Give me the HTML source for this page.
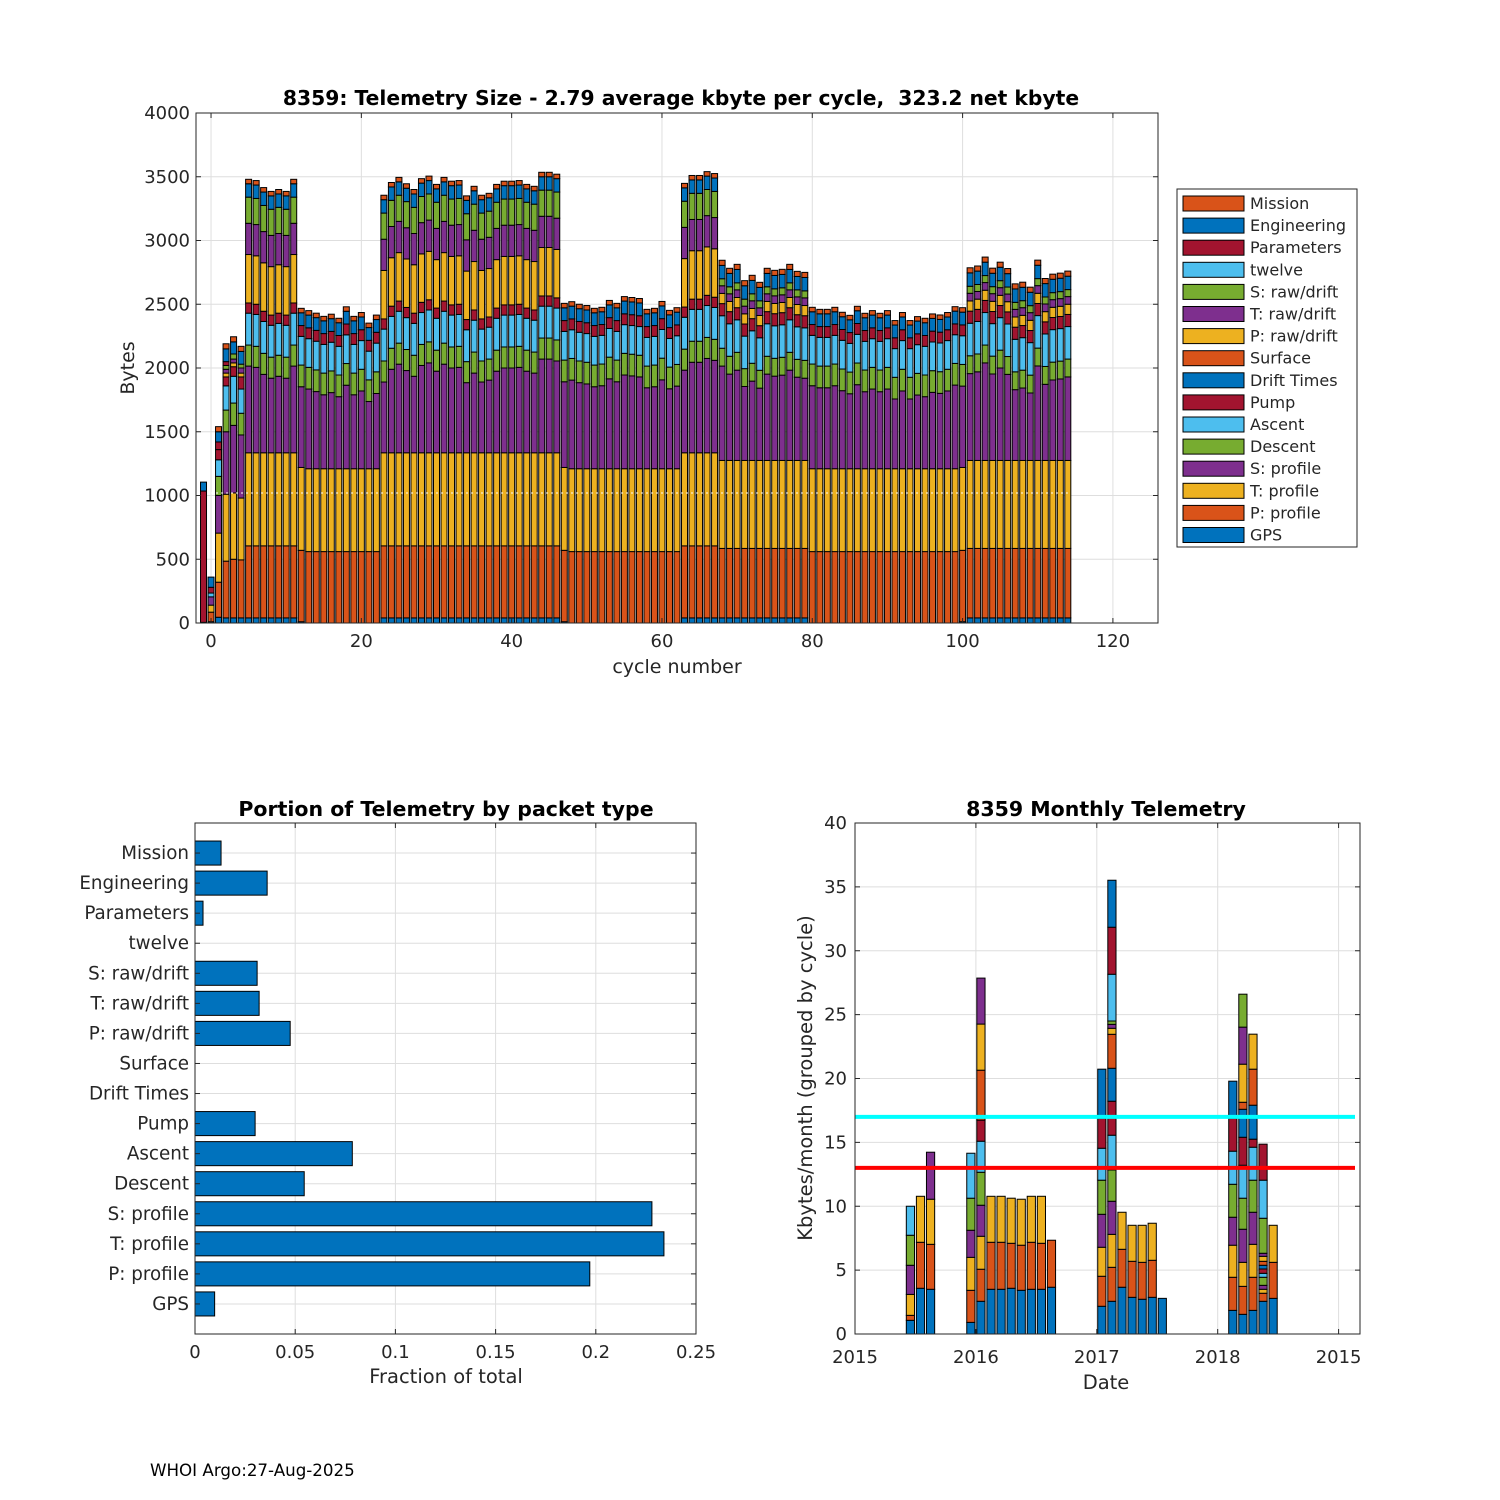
<!DOCTYPE html>
<html><head><meta charset="utf-8"><title>8359 Telemetry</title>
<style>
html,body{margin:0;padding:0;background:#fff;width:1500px;height:1500px;overflow:hidden}
svg{display:block;font-family:"DejaVu Sans","Liberation Sans",sans-serif;fill:#262626}
text{white-space:pre}
</style></head>
<body>
<svg id="fig" xmlns="http://www.w3.org/2000/svg" width="1500" height="1500" viewBox="0 0 1500 1500">
<rect x="0" y="0" width="1500" height="1500" fill="#fff"/>
<text x="150" y="1476" font-size="16.7" fill="#000">WHOI Argo:27-Aug-2025</text>
</svg>
<script>
// ---------- top chart data (cycles -1..114) ----------
const layerNames = ["GPS","P: profile","T: profile","S: profile","Descent","Ascent","Pump","Drift Times","Surface","P: raw/drift","T: raw/drift","S: raw/drift","twelve","Parameters","Engineering","Mission"];
const gps = [5,10,45,40,40,40,
40,40,40,40,40,40,40,
10,0,0,0,0,0,0,0,0,0,0,
40,40,40,40,40,40,40,40,40,40,40,40,40,40,40,40,40,40,40,40,40,40,40,40,
10,0,0,0,0,0,0,0,0,0,0,0,0,0,0,0,
40,40,40,40,40,
40,40,40,40,40,40,40,40,40,40,40,40,
0,0,0,0,0,0,0,0,0,0,0,0,0,0,0,0,0,0,0,0,10,
40,40,40,40,40,40,40,40,40,40,40,40,40,40];
const pProfile = [0,75,275,445,460,455,
565,565,565,565,565,565,565,
560,560,560,560,560,560,560,560,560,560,560,
565,565,565,565,565,565,565,565,565,565,565,565,565,565,565,565,565,565,565,565,565,565,565,565,
560,560,560,560,560,560,560,560,560,560,560,560,560,560,560,560,
565,565,565,565,565,
545,545,545,545,545,545,545,545,545,545,545,545,
560,560,560,560,560,560,560,560,560,560,560,560,560,560,560,560,560,560,560,560,560,
545,545,545,545,545,545,545,545,545,545,545,545,545,545];
const tProfile = [0,55,385,525,520,485,
730,730,730,730,730,730,730,
650,650,650,650,650,650,650,650,650,650,650,
730,730,730,730,730,730,730,730,730,730,730,730,730,730,730,730,730,730,730,730,730,730,730,730,
650,650,650,650,650,650,650,650,650,650,650,650,650,650,650,650,
730,730,730,730,730,
690,690,690,690,690,690,690,690,690,690,690,690,
650,650,650,650,650,650,650,650,650,650,650,650,650,650,650,650,650,650,650,650,650,
690,690,690,690,690,690,690,690,690,690,690,690,690,690];
const sProfile = [0,65,295,490,530,495,
680,670,615,585,600,585,680,
633,625,605,580,597,565,655,580,610,527,590,
555,655,695,645,600,685,705,640,695,665,670,550,625,555,570,640,665,665,670,640,625,735,735,720,
672,695,675,665,643,651,705,682,735,728,720,635,643,697,627,648,
648,710,710,740,725,
740,677,708,580,622,567,677,661,669,708,653,645,
651,635,635,651,612,588,659,604,625,604,625,547,610,547,578,565,599,591,610,656,638,
681,695,765,678,725,675,555,568,529,741,597,631,639,655];
const descent = [0,0,150,170,175,170,
165,165,165,165,165,165,165,
170,170,170,170,170,170,170,170,170,170,170,
165,165,165,165,165,165,165,165,165,165,165,165,165,165,165,165,165,165,165,165,165,165,165,165,
170,170,170,170,170,170,170,170,170,170,170,170,170,170,170,170,
165,165,165,165,165,
140,140,140,140,140,140,140,140,140,140,140,140,
170,170,170,170,170,170,170,170,170,170,170,170,170,170,170,170,170,170,170,170,170,
140,140,140,140,140,140,140,140,140,140,140,140,140,140];
const ascent = [0,30,130,190,210,190,
250,250,250,250,250,250,250,
225,225,225,225,225,225,225,225,225,225,225,
250,250,250,250,250,250,250,250,250,250,250,250,250,250,250,250,250,250,250,250,250,250,250,250,
225,225,225,225,225,225,225,225,225,225,225,225,225,225,225,225,
250,250,250,250,250,
255,255,255,255,255,255,255,255,255,255,255,255,
225,225,225,225,225,225,225,225,225,225,225,225,225,225,225,225,225,225,225,225,225,
255,255,255,255,255,255,255,255,255,255,255,255,255,255];
const pump = [0,45,80,70,75,95,
80,80,80,80,80,80,80,
85,85,85,85,85,85,85,85,85,85,85,
80,80,80,80,80,80,80,80,80,80,80,80,80,80,80,80,80,80,80,80,80,80,80,80,
85,85,85,85,85,85,85,85,85,85,85,85,85,85,85,85,
80,80,80,80,80,
95,95,95,95,95,95,95,95,95,95,95,95,
85,85,85,85,85,85,85,85,85,85,85,85,85,85,85,85,85,85,85,85,85,
95,95,95,95,95,95,95,95,95,95,95,95,95,95];
const pRaw = [0,0,0,30,30,30,
380,380,380,380,380,380,380,
0,0,0,0,0,0,0,0,0,0,0,
380,380,380,380,380,380,380,380,380,380,380,380,380,380,380,380,380,380,380,380,380,380,380,380,
0,0,0,0,0,0,0,0,0,0,0,0,0,0,0,0,
380,380,380,380,380,
80,80,80,80,80,80,80,80,80,80,80,80,
0,0,0,0,0,0,0,0,0,0,0,0,0,0,0,0,0,0,0,0,0,
80,80,80,80,80,80,80,80,80,80,80,80,80,80];
const tRaw = [0,0,0,30,30,40,
245,245,245,245,245,245,245,
0,0,0,0,0,0,0,0,0,0,0,
245,245,245,245,245,245,245,245,245,245,245,245,245,245,245,245,245,245,245,245,245,245,245,245,
0,0,0,0,0,0,0,0,0,0,0,0,0,0,0,0,
245,245,245,245,245,
60,60,60,60,60,60,60,60,60,60,60,60,
0,0,0,0,0,0,0,0,0,0,0,0,0,0,0,0,0,0,0,0,0,
60,60,60,60,60,60,60,60,60,60,60,60,60,60];
const sRaw = [0,0,0,30,40,30,
205,205,205,205,205,205,205,
0,0,0,0,0,0,0,0,0,0,0,
205,205,205,205,205,205,205,205,205,205,205,205,205,205,205,205,205,205,205,205,205,205,205,205,
0,0,0,0,0,0,0,0,0,0,0,0,0,0,0,0,
205,205,205,205,205,
55,55,55,55,55,55,55,55,55,55,55,55,
0,0,0,0,0,0,0,0,0,0,0,0,0,0,0,0,0,0,0,0,0,
55,55,55,55,55,55,55,55,55,55,55,55,55,55];
const parameters = [1030,0,60,30,0,0];
const engineering = [70,80,80,100,95,100,
105,105,105,105,105,105,105,
100,100,100,100,100,100,100,100,100,100,100,
105,105,105,105,105,105,105,105,105,105,105,105,105,105,105,105,105,105,105,105,105,105,105,105,
100,100,100,100,100,100,100,100,100,100,100,100,100,100,100,100,
105,105,105,105,105,
105,105,105,105,105,105,105,105,105,105,105,105,
100,100,100,100,100,100,100,100,100,100,100,100,100,100,100,100,100,100,100,100,100,
105,105,105,105,105,105,105,105,105,105,105,105,105,105];
const mission = [0,0,40,40,40,40,
35,35,35,35,35,35,35,
35,35,35,35,35,35,35,35,35,35,35,
35,35,35,35,35,35,35,35,35,35,35,35,35,35,35,35,35,35,35,35,35,35,35,35,
35,35,35,35,35,35,35,35,35,35,35,35,35,35,35,35,
35,35,35,35,35,
40,40,40,40,40,40,40,40,40,40,40,40,
35,35,35,35,35,35,35,35,35,35,35,35,35,35,35,35,35,35,35,35,35,
40,40,40,40,40,40,40,40,40,40,40,40,40,40];
const topXTicks = [0,20,40,60,80,100,120];
const topYTicks = [0,500,1000,1500,2000,2500,3000,3500,4000];

// ---------- bottom-left data ----------
const fracLabels = ["GPS","P: profile","T: profile","S: profile","Descent","Ascent","Pump","Drift Times","Surface","P: raw/drift","T: raw/drift","S: raw/drift","twelve","Parameters","Engineering","Mission"];
const fracValues = [0.0098,0.197,0.234,0.228,0.0545,0.0785,0.030,0,0,0.0475,0.032,0.031,0,0.004,0.036,0.013];
const fracTicks = [0,0.05,0.1,0.15,0.2,0.25];

// ---------- bottom-right data ----------
const monthIndex = [5,6,7,11,12,13,14,15,16,17,18,19,24,25,26,27,28,29,30,37,38,39,40,41];
const monthSegs = [
[1.07,0.39,1.64,2.28,2.35,2.27],
[3.58,3.6,3.6],
[3.5,3.52,3.53,3.68],
[0.91,2.51,2.58,2.12,2.51,3.52],
[2.56,2.51,2.58,2.43,2.58,2.43,1.65,0,3.91,3.61,3.6],
[3.5,3.68,3.6],
[3.5,3.68,3.6],
[3.58,3.52,3.53],
[3.42,3.53,3.6],
[3.5,3.68,3.6],
[3.5,3.6,3.68],
[3.66,3.68],
[2.17,2.35,2.27,2.58,2.67,2.5,2.35,3.84],
[2.56,2.66,2.58,2.59,2.45,2.72,2.66,2.58,2.66,0.47,0.31,0.26,3.66,3.68,3.68],
[3.66,2.97,2.9],
[2.87,2.82,2.82],
[2.72,2.89,2.9],
[2.87,2.9,2.9],
[2.79],
[1.85,2.59,2.51,2.19,2.58,2.59,2.58,2.9],
[1.54,2.19,1.88,2.59,2.43,2.58,2.19,2.19,0.55,2.98,2.9,2.58],
[1.85,2.59,2.58,2.51,2.51,2.58,0.63,2.66,2.82,2.74],
[2.56,0.63,0.31,0.31,0.63,0.31,0.34,0.29,0.31,0.39,0.24,2.74,2.98,2.82],
[2.79,2.82,2.9]
];
const monthYTicks = [0,5,10,15,20,25,30,35,40];
const yearTickValues = [2015,2016,2017,2018,2019];
const yearTickLabels = ["2015","2016","2017","2018","2015"];
const cyanLevel = 17;
const redLevel = 13;

// ---------- rendering ----------
const NS = "http://www.w3.org/2000/svg";
const svg = document.getElementById("fig");
const palette = ["#0072BD","#D95319","#EDB120","#7E2F8E","#77AC30","#4DBEEE","#A2142F"];
const TXT = "#262626", GRID = "#dedede";
function mk(tag, attrs, name, parent) {
  const el = document.createElementNS(NS, tag);
  for (const k in attrs) el.setAttribute(k, attrs[k]);
  
  
  (parent || svg).appendChild(el);
  return el;
}
function txt(x, y, s, size, anchor, name, extra) {
  const t = mk("text", Object.assign({x:x, y:y, "font-size":size, "text-anchor":anchor, fill:TXT}, extra||{}), name);
  t.textContent = s;
  return t;
}
function line(x1,y1,x2,y2,stroke,w,name,extra){
  return mk("line", Object.assign({x1:x1,y1:y1,x2:x2,y2:y2,stroke:stroke,"stroke-width":w}, extra||{}), name);
}

const cycles = [];
for (let c = -1; c <= 114; c++) cycles.push(c);
const layers = [gps,pProfile,tProfile,sProfile,descent,ascent,pump,cycles.map(()=>0),cycles.map(()=>0),pRaw,tRaw,sRaw,cycles.map(()=>0),parameters,engineering,mission];

// ===== Top chart =====
{
  const L=196,R=1158,T=113,B=623, xmin=-2,xmax=126, ymax=4000;
  const xs = v => L + (v - xmin) / (xmax - xmin) * (R - L);
  const ys = v => B - v / ymax * (B - T);
  topYTicks.forEach(v => { line(L, ys(v), R, ys(v), GRID, 1, "y-gridline"); });
  topXTicks.forEach(v => { line(xs(v), T, xs(v), B, GRID, 1, "x-gridline"); });
  const bw = 6;
  cycles.forEach((c, i) => {
    let cum = 0;
    layers.forEach((arr, k) => {
      const v = arr[i] || 0;
      if (v <= 0) return;
      const y1 = ys(cum + v), y0 = ys(cum);
      const r = mk("rect", {x: xs(c) - bw/2, y: y1, width: bw, height: y0 - y1, fill: palette[k % 7], stroke: "#000", "stroke-width": 1});
      
      
      cum += v;
    });
  });
  line(xs(0), ys(1020), xs(114), ys(1020), "#fff", 1, "mean-line", {"stroke-dasharray":"2,3"});
  mk("rect", {x:L, y:T, width:R-L, height:B-T, fill:"none", stroke:TXT, "stroke-width":1}, "top-axes-box");
  topYTicks.forEach(v => {
    line(L, ys(v), L+5, ys(v), TXT, 1, "y-tick");
    line(R, ys(v), R-5, ys(v), TXT, 1, "y-tick");
    txt(L-6, ys(v)+6, String(v), 18, "end", "y-tick-label");
  });
  topXTicks.forEach(v => {
    line(xs(v), B, xs(v), B-5, TXT, 1, "x-tick");
    line(xs(v), T, xs(v), T+5, TXT, 1, "x-tick");
    txt(xs(v), B+24, String(v), 18, "middle", "x-tick-label");
  });
  txt(677, 673, "cycle number", 19, "middle", "x-axis-title");
  txt(0, 0, "Bytes", 19, "middle", "y-axis-title", {transform:"translate(134,368) rotate(-90)"});
  txt(681, 105, "8359: Telemetry Size - 2.79 average kbyte per cycle,  323.2 net kbyte", 20.3, "middle", "chart-title", {"font-weight":"bold", fill:"#000"});
  // legend
  mk("rect", {x:1177, y:189, width:180, height:358, fill:"#fff", stroke:TXT, "stroke-width":1}, "legend-box");
  for (let j = 0; j < 16; j++) {
    const k = 15 - j;
    const cy = 203 + j * 22.1;
    const sw = mk("rect", {x:1183, y:cy-7, width:61, height:15, fill:palette[k % 7], stroke:"#000", "stroke-width":1});
    
    
    const t = txt(1250, cy+6, layerNames[k], 16, "start", "legend-entry");
    
  }
}

// ===== Bottom-left chart =====
{
  const L=195,R=696,T=823,B=1334, xmax=0.25;
  const xs = v => L + v / xmax * (R - L);
  const n = fracLabels.length;
  const step = (B - T) / (n + 1);
  const yc = i => B - (i + 1) * step;
  fracTicks.forEach(v => { line(xs(v), T, xs(v), B, GRID, 1, "x-gridline"); });
  fracLabels.forEach((s, i) => { line(L, yc(i), R, yc(i), GRID, 1, "y-gridline"); });
  fracValues.forEach((v, i) => {
    if (v <= 0) return;
    const r = mk("rect", {x:L, y:yc(i)-step*0.4, width:xs(v)-L, height:step*0.8, fill:"#0072BD", stroke:"#000", "stroke-width":1});
    
    
  });
  mk("rect", {x:L, y:T, width:R-L, height:B-T, fill:"none", stroke:TXT, "stroke-width":1}, "fraction-axes-box");
  fracLabels.forEach((s, i) => {
    line(L, yc(i), L+5, yc(i), TXT, 1, "y-tick");
    line(R, yc(i), R-5, yc(i), TXT, 1, "y-tick");
    txt(L-6, yc(i)+6, s, 18.3, "end", "y-tick-label");
  });
  fracTicks.forEach(v => {
    line(xs(v), B, xs(v), B-5, TXT, 1, "x-tick");
    line(xs(v), T, xs(v), T+5, TXT, 1, "x-tick");
    txt(xs(v), B+24, String(v), 18, "middle", "x-tick-label");
  });
  txt(446, 1383, "Fraction of total", 19.5, "middle", "x-axis-title");
  txt(446, 816, "Portion of Telemetry by packet type", 20.5, "middle", "chart-title", {"font-weight":"bold", fill:"#000"});
}

// ===== Bottom-right chart =====
{
  const L=855,R=1360,T=823,B=1334, t0=2015, pxPerYear=120.9, ymax=40;
  const xs = t => L + (t - t0) * pxPerYear;
  const ys = v => B - v / ymax * (B - T);
  monthYTicks.forEach(v => { line(L, ys(v), R, ys(v), GRID, 1, "y-gridline"); });
  yearTickValues.forEach(v => { if (v > t0) line(xs(v), T, xs(v), B, GRID, 1, "x-gridline"); });
  const bw = 8.2;
  monthIndex.forEach((m, b) => {
    const xc = xs(t0 + m / 12 + 1 / 24);
    let cum = 0;
    monthSegs[b].forEach((v, k) => {
      if (v <= 0) { return; }
      const y1 = ys(cum + v), y0 = ys(cum);
      const r = mk("rect", {x:xc-bw/2, y:y1, width:bw, height:y0-y1, fill:palette[k % 7], stroke:"#000", "stroke-width":1});
      
      
      cum += v;
    });
  });
  line(L, ys(cyanLevel), 1355, ys(cyanLevel), "#00FFFF", 4, "upper-threshold-line");
  line(L, ys(redLevel), 1355, ys(redLevel), "#FF0000", 4, "lower-threshold-line");
  mk("rect", {x:L, y:T, width:R-L, height:B-T, fill:"none", stroke:TXT, "stroke-width":1}, "monthly-axes-box");
  monthYTicks.forEach(v => {
    line(L, ys(v), L+5, ys(v), TXT, 1, "y-tick");
    line(R, ys(v), R-5, ys(v), TXT, 1, "y-tick");
    txt(L-8, ys(v)+6, String(v), 18, "end", "y-tick-label");
  });
  yearTickValues.forEach((v, i) => {
    line(xs(v), B, xs(v), B-5, TXT, 1, "x-tick");
    line(xs(v), T, xs(v), T+5, TXT, 1, "x-tick");
    txt(xs(v), B+29, yearTickLabels[i], 18, "middle", "x-tick-label");
  });
  txt(1106, 1389, "Date", 19.5, "middle", "x-axis-title");
  txt(0, 0, "Kbytes/month (grouped by cycle)", 19.5, "middle", "y-axis-title", {transform:"translate(812,1078) rotate(-90)"});
  txt(1106, 816, "8359 Monthly Telemetry", 20.5, "middle", "chart-title", {"font-weight":"bold", fill:"#000"});
}
</script>
</body></html>
